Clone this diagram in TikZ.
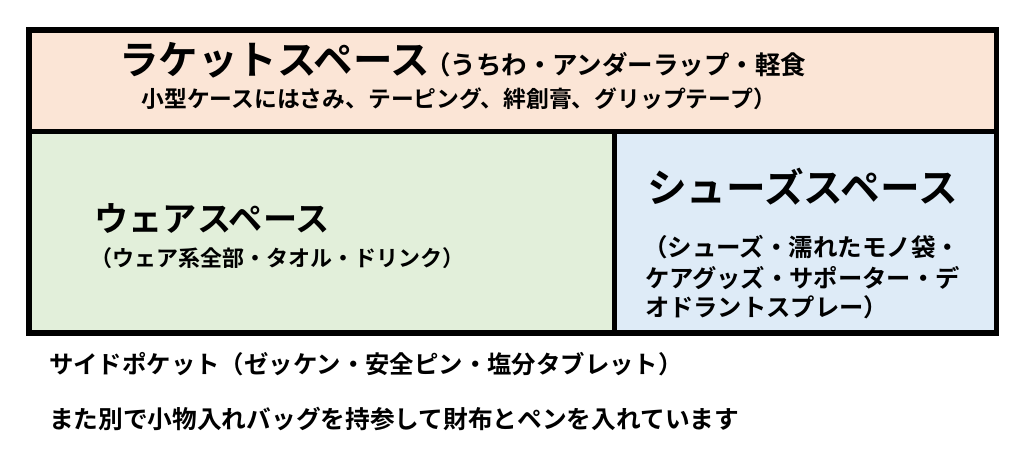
\documentclass[tikz,border=0pt]{standalone}
\usepackage{fontspec}
\newfontfamily\jp{Noto Sans CJK JP}[BoldFont={* Bold}]
\definecolor{peach}{RGB}{251,229,214}
\definecolor{lgreen}{RGB}{226,239,218}
\definecolor{lblue}{RGB}{222,235,247}
\tikzset{
  region/.style={draw=none, inner sep=0pt, outer sep=0pt},
  txt/.style={inner sep=0pt, outer sep=0pt, anchor=base west, font=\jp\bfseries},
  border/.style={line width=5.5pt, line join=miter},
  divider/.style={line width=4.8pt}
}
\begin{document}
\begin{tikzpicture}[x=1pt,y=-1pt]
\useasboundingbox (0,0) rectangle (1024,451);
% regions
\node[region, fill=peach, minimum width=967.5pt, minimum height=101.5pt, anchor=north west] (top) at (29,30) {};
\node[region, fill=lgreen, minimum width=585.5pt, minimum height=201.5pt, anchor=north west] (wear) at (29,131.5) {};
\node[region, fill=lblue, minimum width=382pt, minimum height=201.5pt, anchor=north west] (shoe) at (614.5,131.5) {};
% lines
\draw[divider] (top.south west) -- (top.south east);
\draw[divider] (wear.north east) -- (wear.south east);
\draw[border] (top.north west) rectangle (shoe.south east);
% top texts
\node[txt, font=\jp\bfseries\fontsize{39.5}{39.5}\selectfont] (t1) at (119,74) {ラケットスペース};
\node[txt, font=\jp\bfseries\fontsize{25.5}{25.5}\selectfont] (t2) at (425,74) {（うちわ・アンダーラップ・軽食};
\node[txt, font=\jp\bfseries\fontsize{22.8}{22.8}\selectfont] (t3) at (141.5,107) {小型ケースにはさみ、テーピング、絆創膏、グリップテープ）};
% wear texts
\node[txt, font=\jp\bfseries\fontsize{34.2}{34.2}\selectfont] (w1) at (94.5,231) {ウェアスペース};
\node[txt, font=\jp\bfseries\fontsize{22}{22}\selectfont] (w2) at (90,266.5) {（ウェア系全部・タオル・ドリンク）};
% shoe texts
\node[txt, font=\jp\bfseries\fontsize{39.7}{39.7}\selectfont] (s1) at (647,202) {シューズスペース};
\node[txt, font=\jp\bfseries\fontsize{24.5}{24.5}\selectfont] (s2) at (643,256.5) {（シューズ・濡れたモノ袋・};
\node[txt, font=\jp\bfseries\fontsize{24.3}{24.3}\selectfont] (s3) at (645,287.5) {ケアグッズ・サポーター・デ};
\node[txt, font=\jp\bfseries\fontsize{24.3}{24.3}\selectfont] (s4) at (645,316.5) {オドラントスプレー）};
% bottom texts
\node[txt, font=\jp\bfseries\fontsize{24.4}{24.4}\selectfont] (b1) at (49,373.5) {サイドポケット（ゼッケン・安全ピン・塩分タブレット）};
\node[txt, font=\jp\bfseries\fontsize{24.7}{24.7}\selectfont] (b2) at (49,428) {また別で小物入れバッグを持参して財布とペンを入れています};
\end{tikzpicture}
\end{document}
